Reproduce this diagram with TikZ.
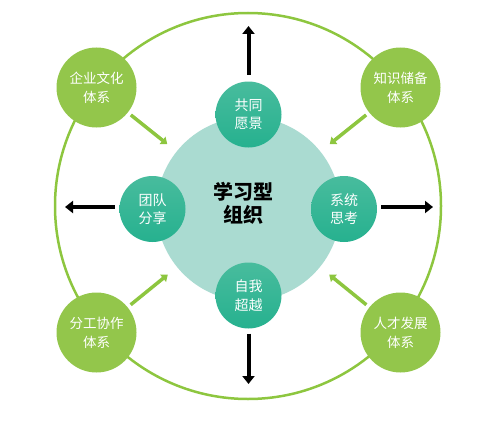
\documentclass[tikz,border=0pt]{standalone}
\usepackage{fontspec}
\newfontfamily\cjk{Noto Sans CJK SC}
\usetikzlibrary{arrows.meta}
\definecolor{ringgreen}{RGB}{141,198,63}
\definecolor{ballgreen}{RGB}{147,198,75}
\definecolor{paleteal}{RGB}{170,219,209}
\definecolor{tealtop}{RGB}{72,188,157}
\definecolor{tealbot}{RGB}{38,177,143}
\tikzset{
  ring/.style={circle, draw=ringgreen, line width=2.5pt, minimum size=386pt, inner sep=0pt},
  core/.style={circle, fill=paleteal, minimum size=184pt, inner sep=0pt, outer sep=0pt},
  petal/.style={circle, top color=tealtop, bottom color=tealbot, minimum size=66pt, inner sep=0pt, outer sep=0pt,
    text=white, align=center, font=\cjk\fontsize{14}{18.5}\selectfont},
  pillar/.style={circle, fill=ballgreen, minimum size=80pt, inner sep=0pt, outer sep=0pt,
    text=white, align=center, font=\cjk\fontsize{13.5}{19}\selectfont},
  title/.style={align=center, text=black, font=\cjk\bfseries\fontsize{20}{23}\selectfont},
  outarrow/.style={draw=black, line width=4pt, -{Triangle[length=8pt,width=12pt]}},
  inarrow/.style={draw=ringgreen, line width=3.5pt, -{Triangle[length=6pt,width=9pt]}}
}
\begin{document}
\begin{tikzpicture}[x=1pt,y=-1pt]
\useasboundingbox (0,0) rectangle (500,420);
\node[ring] (outer) at (248,206) {};
\node[core] (core) at (248.5,209) {};
\node[title] (t) at (243,203) {学习型\\组织};
\node[petal] (top) at (248.5,114.5) {共同\\愿景};
\node[petal] (bot) at (248.5,295.5) {自我\\超越};
\node[petal] (lft) at (152.5,209) {团队\\分享};
\node[petal] (rgt) at (344,209) {系统\\思考};
\node[pillar] (tl) at (96.5,87.5) {企业文化\\体系};
\node[pillar] (tr) at (400.5,87.5) {知识储备\\体系};
\node[pillar] (bl) at (96.5,332.5) {分工协作\\体系};
\node[pillar] (br) at (400.5,332.5) {人才发展\\体系};
\coordinate (topend) at (248.5,26);
\coordinate (botend) at (248.5,384);
\coordinate (lftend) at (65,207);
\coordinate (rgtend) at (433,207);
\draw[outarrow, shorten <=7pt] (top) -- (topend);
\draw[outarrow, shorten <=5pt] (bot) -- (botend);
\draw[outarrow, shorten <=5pt] (lft.west |- lftend) -- (lftend);
\draw[outarrow, shorten <=4pt] (rgt.east |- rgtend) -- (rgtend);
\draw[inarrow, shorten <=4pt, shorten >=12pt] (tl) -- (core);
\draw[inarrow, shorten <=4pt, shorten >=12pt] (tr) -- (core);
\draw[inarrow, shorten <=4pt, shorten >=12pt] (bl) -- (core);
\draw[inarrow, shorten <=4pt, shorten >=12pt] (br) -- (core);
\end{tikzpicture}
\end{document}
